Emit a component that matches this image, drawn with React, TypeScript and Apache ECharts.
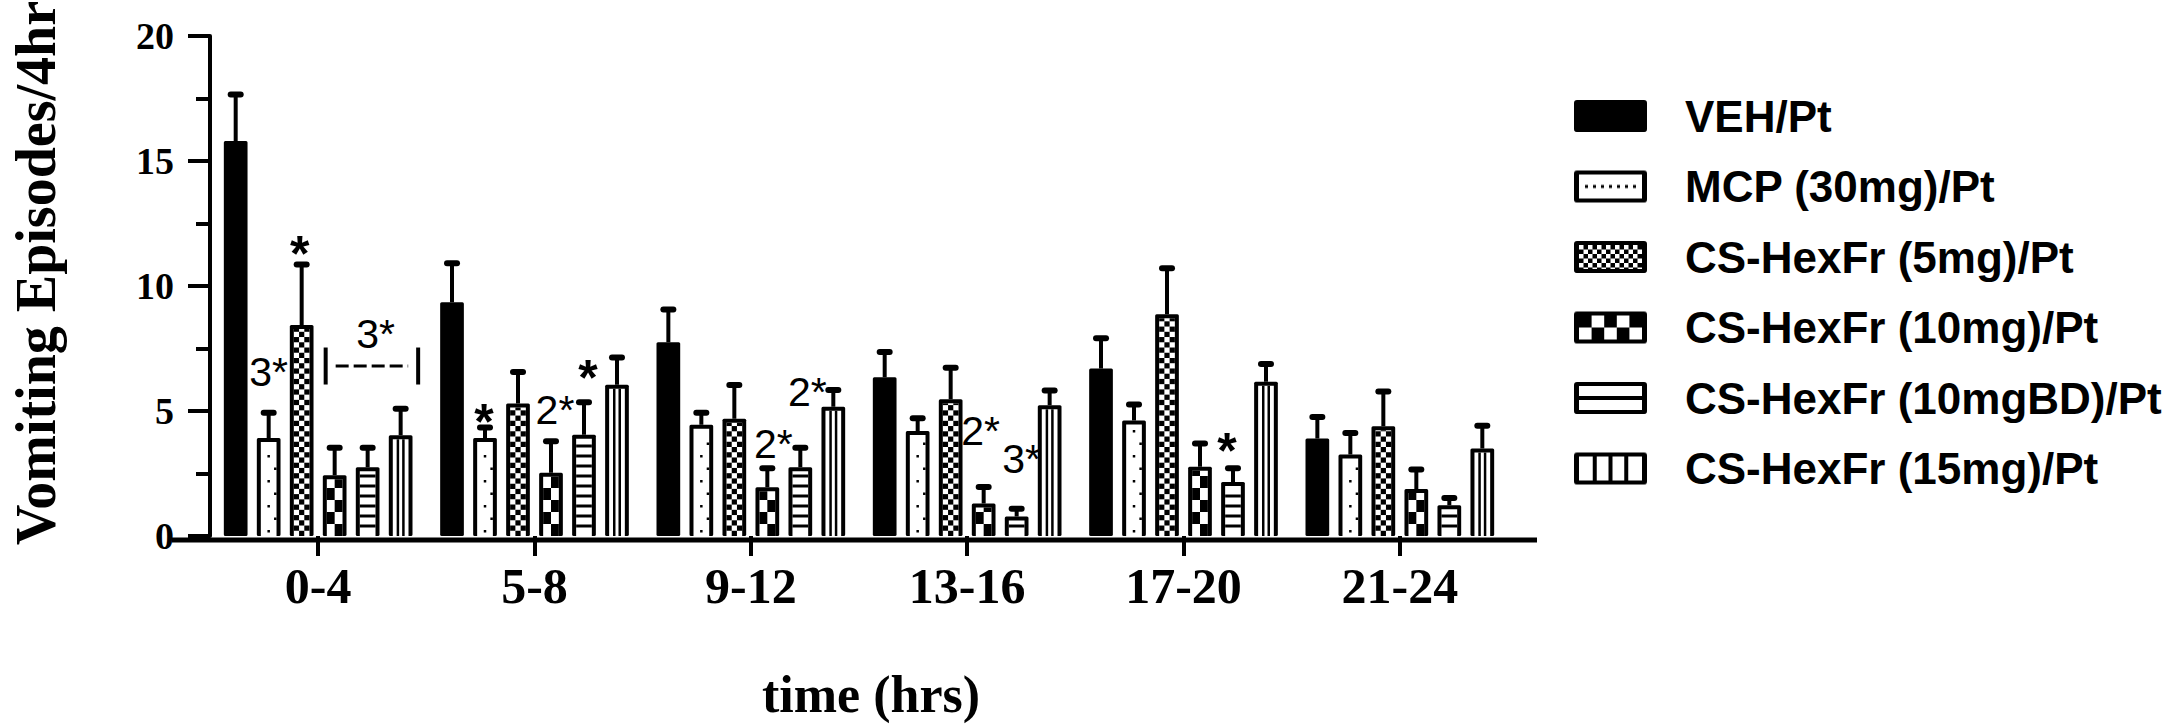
import React, { useEffect, useRef } from 'react';
import * as echarts from 'echarts';

const W = 2177;
const H = 725;

// ---- data ----
const categories = ['0-4', '5-8', '9-12', '13-16', '17-20', '21-24'];
const seriesNames = [
  'VEH/Pt',
  'MCP (30mg)/Pt',
  'CS-HexFr (5mg)/Pt',
  'CS-HexFr (10mg)/Pt',
  'CS-HexFr (10mgBD)/Pt',
  'CS-HexFr (15mg)/Pt',
];
// means and upper end of the error bar (mean + SEM)
const vehMean = [15.8, 9.35, 7.75, 6.35, 6.7, 3.9];
const vehErr = [17.7, 10.95, 9.1, 7.4, 7.95, 4.8];
const mcpMean = [3.92, 3.92, 4.45, 4.2, 4.62, 3.26];
const mcpErr = [4.97, 4.38, 4.97, 4.75, 5.3, 4.16];
const cs5Mean = [8.44, 5.3, 4.69, 5.47, 8.87, 4.39];
const cs5Err = [10.9, 6.6, 6.08, 6.77, 10.75, 5.82];
const cs10Mean = [2.43, 2.53, 1.95, 1.3, 2.77, 1.88];
const cs10Err = [3.57, 3.83, 2.75, 2.0, 3.74, 2.7];
const cs10bdMean = [2.75, 4.05, 2.75, 0.78, 2.16, 1.23];
const cs10bdErr = [3.57, 5.39, 3.57, 1.13, 2.75, 1.56];
const cs15Mean = [4.03, 6.05, 5.17, 5.23, 6.17, 3.5];
const cs15Err = [5.13, 7.18, 5.88, 5.86, 6.92, 4.45];

const means = [vehMean, mcpMean, cs5Mean, cs10Mean, cs10bdMean, cs15Mean];
const errs = [vehErr, mcpErr, cs5Err, cs10Err, cs10bdErr, cs15Err];

const yTicks = [0, 20, 5];

// significance marks: category, bar index, value level, text, small nudge
const annotations = [
  { cat: 0, s: 2, y: 11.75, text: '*', dx: -2 },
  { cat: 0, s: 1, y: 6.56, text: '3*', dx: 0 },
  { cat: 0, s: 4, y: 8.1, text: '3*', dx: 8 },
  { cat: 1, s: 1, y: 5.04, text: '*', dx: -1 },
  { cat: 1, s: 3, y: 5.04, text: '2*', dx: 4 },
  { cat: 1, s: 4, y: 6.8, text: '*', dx: 4 },
  { cat: 2, s: 4, y: 5.75, text: '2*', dx: 7 },
  { cat: 2, s: 3, y: 3.67, text: '2*', dx: 6 },
  { cat: 3, s: 3, y: 4.22, text: '2*', dx: -3 },
  { cat: 3, s: 4, y: 3.1, text: '3*', dx: 5 },
  { cat: 4, s: 4, y: 3.87, text: '*', dx: -6 },
];
const brackets = [{ cat: 0, from: 3, to: 5, y: 6.8 }];

const STEP_FRAC = 33.4 / 219;
const WIDTH_FRAC = 24 / 219;

function makeIcon(kind: number): string {
  const k = 2;
  const c = document.createElement('canvas');
  c.width = 106 * k;
  c.height = 32 * k;
  const g = c.getContext('2d')!;
  const bw = 73 * k;
  const bh = 32 * k;
  g.fillStyle = '#000';
  g.beginPath();
  const r = 3 * k;
  g.moveTo(r, 0);
  g.lineTo(bw - r, 0);
  g.quadraticCurveTo(bw, 0, bw, r);
  g.lineTo(bw, bh - r);
  g.quadraticCurveTo(bw, bh, bw - r, bh);
  g.lineTo(r, bh);
  g.quadraticCurveTo(0, bh, 0, bh - r);
  g.lineTo(0, r);
  g.quadraticCurveTo(0, 0, r, 0);
  g.fill();
  const lx = 5 * k;
  const ly = 4 * k;
  const ix = lx;
  const iy = ly;
  const iw = bw - 2 * lx;
  const ih = bh - 2 * ly;
  if (kind === 0) return c.toDataURL();
  g.fillStyle = '#fff';
  g.fillRect(ix, iy, iw, ih);
  g.fillStyle = '#000';
  if (kind === 1) {
    for (let x = ix + 6 * k; x < ix + iw - 2 * k; x += 8 * k) {
      g.fillRect(x, iy + ih / 2 - 1.5 * k, 3 * k, 3 * k);
    }
  } else if (kind === 2) {
    const cs = 4.5 * k;
    for (let rr = 0; rr * cs < ih; rr++) {
      for (let cc = 0; cc * cs < iw; cc++) {
        if ((rr + cc) % 2 === 1) {
          g.fillRect(ix + cc * cs, iy + rr * cs, Math.min(cs, iw - cc * cs), Math.min(cs, ih - rr * cs));
        }
      }
    }
  } else if (kind === 3) {
    const ch = ih / 2;
    const cw = iw / 5;
    for (let rr = 0; rr < 2; rr++) {
      for (let cc = 0; cc < 5; cc++) {
        if ((rr + cc) % 2 === 0) g.fillRect(ix + cc * cw, iy + rr * ch, cw, ch);
      }
    }
  } else if (kind === 4) {
    g.fillRect(ix, iy + ih / 2 - 2 * k, iw, 4 * k);
  } else if (kind === 5) {
    for (let j = 1; j < 4; j++) {
      g.fillRect(ix + (iw * j) / 4 - 2 * k, iy, 4 * k, ih);
    }
  }
  return c.toDataURL();
}

function patternChildren(s: number, xc: number, ix0: number, ix1: number, iy0: number, iy1: number) {
  const ch: any[] = [];
  const iw = ix1 - ix0;
  const fill = { fill: '#000' };
  if (s === 1) {
    let kk = 0;
    for (let y = iy1 - 6; y > iy0 + 2; y -= 12.5) {
      const x = kk % 2 === 0 ? xc - 1.25 : ix1 - 2.5;
      ch.push({ type: 'rect', shape: { x, y, width: 2.5, height: 2.5 }, style: fill });
      kk++;
    }
  } else if (s === 2) {
    const cw = iw / 3;
    let r = 0;
    for (let yb = iy1; yb > iy0; yb -= cw, r++) {
      const yt = Math.max(iy0, yb - cw);
      for (let c = 0; c < 3; c++) {
        if ((r + c) % 2 === 1) {
          ch.push({ type: 'rect', shape: { x: ix0 + c * cw, y: yt, width: cw, height: yb - yt }, style: fill });
        }
      }
    }
  } else if (s === 3) {
    const cw = iw / 2;
    const rh = 12;
    let r = 0;
    for (let yb = iy1; yb > iy0; yb -= rh, r++) {
      const yt = Math.max(iy0, yb - rh);
      for (let c = 0; c < 2; c++) {
        if ((r + c) % 2 === 1) {
          ch.push({ type: 'rect', shape: { x: ix0 + c * cw, y: yt, width: cw, height: yb - yt }, style: fill });
        }
      }
    }
  } else if (s === 4) {
    for (let y = iy1 - 10; y > iy0 + 3; y -= 10) {
      ch.push({ type: 'rect', shape: { x: ix0, y: y - 1.5, width: iw, height: 3 }, style: fill });
    }
  } else if (s === 5) {
    ch.push({ type: 'rect', shape: { x: xc - 4, y: iy0, width: 2.5, height: iy1 - iy0 }, style: fill });
    ch.push({ type: 'rect', shape: { x: xc + 1.5, y: iy0, width: 2.5, height: iy1 - iy0 }, style: fill });
  }
  return ch;
}

function renderBar(s: number) {
  return (params: any, api: any) => {
    const ci = api.value(0);
    const v = api.value(1);
    const et = api.value(2);
    const top = api.coord([ci, v]);
    const base = api.coord([ci, 0]);
    const ep = api.coord([ci, et]);
    const band = api.size([1, 0])[0];
    const step = band * STEP_FRAC;
    const w = band * WIDTH_FRAC;
    const xc = top[0] + (s - 2.5) * step;
    const x0 = xc - w / 2;
    const yT = top[1];
    const yB = base[1];
    const yE = ep[1];
    const B = 4;
    const children: any[] = [];
    children.push({ type: 'line', shape: { x1: xc, y1: yT, x2: xc, y2: yE }, style: { stroke: '#000', lineWidth: 4 } });
    children.push({
      type: 'line',
      shape: { x1: xc - 5, y1: yE + 1, x2: xc + 5, y2: yE + 1 },
      style: { stroke: '#000', lineWidth: 6, lineCap: 'round' },
    });
    children.push({ type: 'rect', shape: { x: x0, y: yT, width: w, height: yB - yT, r: 1.5 }, style: { fill: '#000' } });
    if (s !== 0) {
      children.push({ type: 'rect', shape: { x: x0 + B, y: yT + B, width: w - 2 * B, height: Math.max(0, yB - yT - B) }, style: { fill: '#fff' } });
      patternChildren(s, xc, x0 + B, x0 + w - B, yT + B, yB).forEach((c) => children.push(c));
    }
    return { type: 'group', children };
  };
}

function App() {
  const ref = useRef<HTMLDivElement>(null);
  useEffect(() => {
    document.body.style.margin = '0';
    const chart = echarts.init(ref.current!, null, { renderer: 'svg', width: W, height: H });
    const icons = seriesNames.map((_, i) => makeIcon(i));
    const serif = 'Liberation Serif';
    const sans = 'Liberation Sans';

    const barSeries = seriesNames.map((name, s) => ({
      type: 'custom',
      name,
      data: categories.map((_, i) => [i, means[s][i], errs[s][i]]),
      encode: { x: 0, y: 1 },
      renderItem: renderBar(s),
      silent: true,
      z: 2,
    }));

    const annotSeries = {
      type: 'custom',
      name: 'marks',
      data: annotations.map((a) => [a.cat, a.y]),
      encode: { x: 0, y: 1 },
      silent: true,
      z: 5,
      renderItem: (params: any, api: any) => {
        const a = annotations[params.dataIndex];
        const p = api.coord([api.value(0), api.value(1)]);
        const band = api.size([1, 0])[0];
        const x = p[0] + (a.s - 2.5) * band * STEP_FRAC + a.dx;
        const star = a.text === '*';
        const fs = star ? 50 : 41;
        return {
          type: 'text',
          x,
          y: p[1] + (star ? fs * 0.23 : 0),
          style: {
            text: a.text,
            fontSize: fs,
            lineHeight: star ? 30 : 27,
            fontFamily: sans,
            fontWeight: star ? 'bold' : 'normal',
            fill: '#000',
            align: 'center',
            verticalAlign: 'middle',
          },
        };
      },
    };

    const bracketSeries = {
      type: 'custom',
      name: 'bracket',
      data: brackets.map((b) => [b.cat, b.y]),
      encode: { x: 0, y: 1 },
      silent: true,
      z: 5,
      renderItem: (params: any, api: any) => {
        const b = brackets[params.dataIndex];
        const p = api.coord([api.value(0), api.value(1)]);
        const band = api.size([1, 0])[0];
        const step = band * STEP_FRAC;
        const x1 = p[0] + (b.from - 2.5) * step - 9;
        const x2 = p[0] + (b.to - 2.5) * step + 17.5;
        const y = p[1];
        const st = { stroke: '#000', lineWidth: 4 };
        return {
          type: 'group',
          children: [
            { type: 'line', shape: { x1, y1: y - 18.5, x2: x1, y2: y + 18.5 }, style: st },
            { type: 'line', shape: { x1: x2, y1: y - 18.5, x2, y2: y + 18.5 }, style: st },
            {
              type: 'line',
              shape: { x1: x1 + 10, y1: y, x2: x2 - 10, y2: y },
              style: { stroke: '#000', lineWidth: 3, lineDash: [13, 5] },
            },
          ],
        };
      },
    };

    const option: any = {
      animation: false,
      backgroundColor: '#fff',
      grid: { left: 194, top: 28, width: 1314, height: 512, containLabel: false },
      legend: {
        data: seriesNames.map((n, i) => ({ name: n, icon: 'image://' + icons[i] })),
        orient: 'vertical',
        left: 1574,
        top: 93.5,
        padding: 0,
        itemWidth: 106,
        itemHeight: 32,
        itemGap: 25.5,
        selectedMode: false,
        textStyle: { fontFamily: sans, fontWeight: 'bold', fontSize: 44, lineHeight: 45, color: '#000' },
      },
      xAxis: {
        type: 'category',
        data: categories,
        axisLine: { show: false },
        axisTick: { show: true, alignWithLabel: true, interval: 0, length: 20, lineStyle: { color: '#000', width: 4 } },
        axisLabel: { interval: 0, margin: 25, fontFamily: serif, fontWeight: 'bold', fontSize: 50, lineHeight: 50, color: '#000' },
        splitLine: { show: false },
        name: 'time (hrs)',
        nameLocation: 'middle',
        nameGap: 132,
        nameTextStyle: { fontFamily: serif, fontWeight: 'bold', fontSize: 52, lineHeight: 52, color: '#000', padding: [0, 0, 0, 24] },
      },
      yAxis: {
        type: 'value',
        min: yTicks[0],
        max: yTicks[1],
        interval: yTicks[2],
        axisLine: { show: true, lineStyle: { color: '#000', width: 4 } },
        axisTick: { show: true, length: 22, lineStyle: { color: '#000', width: 4 } },
        minorTick: { show: true, splitNumber: 2, length: 14, lineStyle: { color: '#000', width: 4 } },
        splitLine: { show: false },
        minorSplitLine: { show: false },
        axisLabel: { margin: 36, fontFamily: serif, fontWeight: 'bold', fontSize: 38, color: '#000' },
        name: 'Vomiting Episodes/4hr',
        nameLocation: 'middle',
        nameGap: 146,
        nameTextStyle: { fontFamily: serif, fontWeight: 'bold', fontSize: 56, lineHeight: 56, color: '#000', padding: [0, 0, 0, 26] },
      },
      graphic: [
        { type: 'line', shape: { x1: 172, y1: 540, x2: 1537, y2: 540 }, style: { stroke: '#000', lineWidth: 5 }, z: 10 },
      ],
      series: [...barSeries, annotSeries, bracketSeries],
    };
    chart.setOption(option);
    return () => chart.dispose();
  }, []);
  return <div ref={ref} style={{ width: W, height: H, position: 'absolute', left: 0, top: 0 }} />;
}

export default App;
